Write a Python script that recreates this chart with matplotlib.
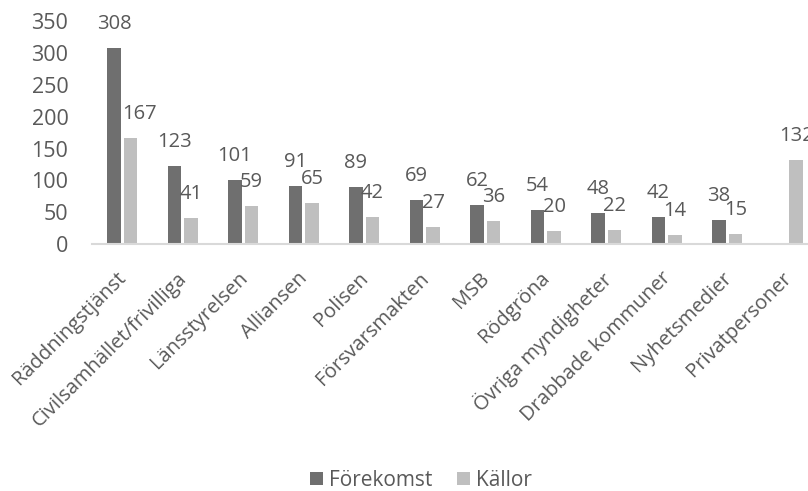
import numpy as np
import matplotlib.pyplot as plt
import matplotlib.transforms as mtransforms

categories = ['Räddningstjänst', 'Civilsamhället/frivilliga', 'Länsstyrelsen', 'Alliansen',
              'Polisen', 'Försvarsmakten', 'MSB', 'Rödgröna', 'Övriga myndigheter',
              'Drabbade kommuner', 'Nyhetsmedier', 'Privatpersoner']
forekomst = [308, 123, 101, 91, 89, 69, 62, 54, 48, 42, 38, None]
kallor = [167, 41, 59, 65, 42, 27, 36, 20, 22, 14, 15, 132]

plt.rcParams['font.family'] = ['Open Sans', 'DejaVu Sans']
txt = '#595959'

fig = plt.figure(figsize=(8.08, 4.91), dpi=100)
ax = fig.add_axes([92 / 808, 1 - 244 / 491, 726 / 808, (244 - 21.3) / 491])

x = np.arange(len(categories))
w = 0.225
gap = 0.025
dark = [v if v is not None else 0 for v in forekomst]
ax.bar(x - w / 2 - gap, dark, w, color='#6f6f6f', label='Förekomst')
ax.bar(x + w / 2 + gap, kallor, w, color='#bfbfbf', label='Källor')

for xi, v in zip(x, forekomst):
    if v is not None:
        ax.annotate(str(v), (xi - w / 2 - gap, v), xytext=(0, 24), textcoords='offset pixels',
                    ha='center', va='center', fontsize=14.5, color=txt)
for i, (xi, v) in enumerate(zip(x, kallor)):
    dx = 9 if i == 0 else 0  # first label was nudged right in the original
    ax.annotate(str(v), (xi + w / 2 + gap, v), xytext=(dx, 24), textcoords='offset pixels',
                ha='center', va='center', fontsize=14.5, color=txt, annotation_clip=False)

ax.set_xlim(-0.5, len(categories) - 0.5)
ax.set_ylim(0, 350)
ax.set_yticks(range(0, 351, 50))
ax.set_xticks(x)
ax.set_xticklabels(categories, rotation=45, ha='right', va='top', rotation_mode='anchor')
ax.tick_params(length=0, colors=txt)
ax.tick_params(axis='y', pad=17, labelsize=15.5)
ax.tick_params(axis='x', pad=17.5, labelsize=14.5)
shift = mtransforms.ScaledTranslation(-6 / 100, 0, fig.dpi_scale_trans)
for lab in ax.get_xticklabels():
    lab.set_transform(lab.get_transform() + shift)
for s in ['top', 'right', 'left']:
    ax.spines[s].set_visible(False)
ax.spines['bottom'].set_color('#d9d9d9')
ax.spines['bottom'].set_linewidth(1.5)

fig.legend(loc='center', bbox_to_anchor=(0.521, 0.022), ncol=2, frameon=False,
           fontsize=15, labelcolor=txt, handlelength=0.6, handleheight=0.6,
           columnspacing=1.2, handletextpad=0.3, borderpad=0.2)

fig.savefig('out.png', dpi=100)
